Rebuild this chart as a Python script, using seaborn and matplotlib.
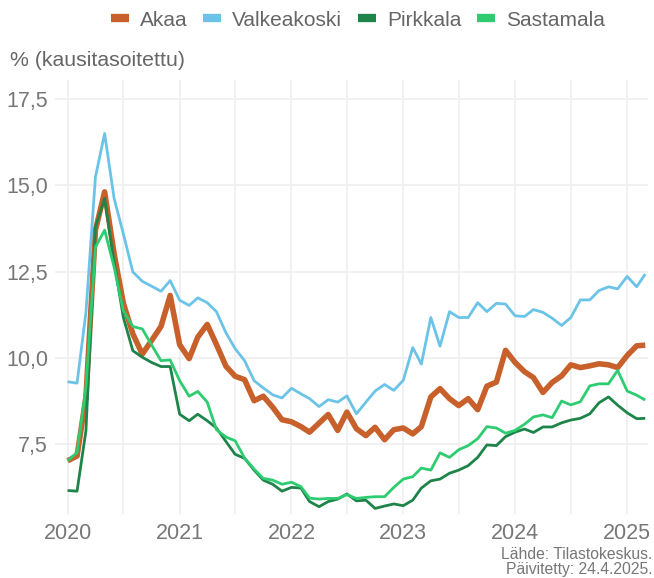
import matplotlib
matplotlib.use("Agg")
import matplotlib.pyplot as plt
import matplotlib.dates as mdates
from matplotlib.lines import Line2D
import seaborn as sns
import pandas as pd

months = pd.date_range("2020-01-01", "2025-03-01", freq="MS")

akaa = [7.02, 7.16, 8.86, 13.7, 14.81, 13.02, 11.59, 10.7, 10.11, 10.5, 10.91, 11.81,
        10.38, 9.98, 10.6, 10.97, 10.39, 9.76, 9.47, 9.37, 8.76, 8.89, 8.57, 8.21,
        8.15, 8.01, 7.85, 8.11, 8.36, 7.9, 8.43, 7.95, 7.75, 7.99, 7.63, 7.92,
        7.97, 7.8, 8.01, 8.87, 9.11, 8.82, 8.62, 8.82, 8.5, 9.18, 9.3, 10.22,
        9.87, 9.6, 9.43, 9.0, 9.29, 9.48, 9.8, 9.72, 9.77, 9.83, 9.8, 9.72,
        10.07, 10.35, 10.37]
valkeakoski = [9.31, 9.27, 11.32, 15.24, 16.5, 14.62, 13.6, 12.49, 12.22, 12.08, 11.93, 12.24,
               11.67, 11.52, 11.74, 11.6, 11.34, 10.73, 10.27, 9.92, 9.34, 9.13, 8.93, 8.84,
               9.12, 8.96, 8.82, 8.59, 8.79, 8.72, 8.9, 8.38, 8.72, 9.04, 9.23, 9.06,
               9.35, 10.3, 9.82, 11.17, 10.34, 11.34, 11.17, 11.17, 11.6, 11.34, 11.58, 11.56,
               11.22, 11.2, 11.4, 11.32, 11.15, 10.94, 11.17, 11.68, 11.68, 11.95, 12.06, 12.0,
               12.36, 12.06, 12.43]
pirkkala = [6.16, 6.14, 7.89, 13.79, 14.62, 12.78, 11.18, 10.21, 10.02, 9.87, 9.75, 9.75,
            8.37, 8.18, 8.37, 8.18, 7.97, 7.58, 7.21, 7.09, 6.75, 6.46, 6.34, 6.14,
            6.25, 6.23, 5.84, 5.69, 5.84, 5.91, 6.06, 5.86, 5.88, 5.64, 5.71, 5.77,
            5.72, 5.88, 6.23, 6.44, 6.49, 6.66, 6.75, 6.88, 7.12, 7.48, 7.46, 7.72,
            7.85, 7.94, 7.84, 8.0, 8.0, 8.12, 8.2, 8.25, 8.38, 8.7, 8.87, 8.63,
            8.41, 8.24, 8.25]
sastamala = [7.02, 7.26, 9.15, 13.21, 13.7, 12.63, 11.37, 10.91, 10.84, 10.38, 9.92, 9.94,
             9.34, 8.89, 9.03, 8.72, 7.92, 7.71, 7.6, 7.1, 6.78, 6.51, 6.46, 6.34,
             6.4, 6.27, 5.94, 5.91, 5.93, 5.93, 6.04, 5.93, 5.96, 5.98, 5.98, 6.25,
             6.49, 6.56, 6.81, 6.75, 7.25, 7.12, 7.34, 7.46, 7.66, 8.01, 7.97, 7.82,
             7.9, 8.08, 8.29, 8.35, 8.27, 8.75, 8.64, 8.73, 9.19, 9.25, 9.25, 9.64,
             9.04, 8.92, 8.78]

series_names = ["Akaa", "Valkeakoski", "Pirkkala", "Sastamala"]
colors = ["#C8602B", "#6CC3E8", "#1E8449", "#2ECC71"]
widths = [4.0, 2.0, 2.0, 2.0]
y_ticks = [7.5, 10.0, 12.5, 15.0, 17.5]
y_label = "% (kausitasoitettu)"
source = "Lähde: Tilastokeskus.\nPäivitetty: 24.4.2025."

sns.set_theme(style="white")
FONT = ["Liberation Sans Narrow", "Liberation Sans", "DejaVu Sans"]
plt.rcParams["font.family"] = FONT

df = pd.DataFrame({"kk": list(months) * 4,
                   "arvo": akaa + valkeakoski + pirkkala + sastamala,
                   "kunta": sum([[n] * len(months) for n in series_names], [])})

fig = plt.figure(figsize=(6.54, 5.78), dpi=100)
ax = fig.add_axes([55 / 654, 1 - 515 / 578, (648 - 55) / 654, (515 - 80) / 578])

for name, col, lw in zip(series_names, colors, widths):
    sns.lineplot(data=df[df["kunta"] == name], x="kk", y="arvo", color=col,
                 linewidth=lw, ax=ax, legend=False, solid_joinstyle="round",
                 solid_capstyle="butt")

ax.set_xlim(pd.Timestamp("2019-11-21"), pd.Timestamp("2025-03-10"))
ax.set_ylim(5.45, 18.05)
ax.xaxis.set_major_locator(mdates.YearLocator())
ax.xaxis.set_major_formatter(mdates.DateFormatter("%Y"))
ax.xaxis.set_minor_locator(mdates.MonthLocator(bymonth=[7]))
ax.set_yticks(y_ticks)
ax.set_yticklabels([f"{v:.1f}".replace(".", ",") for v in y_ticks])
ax.grid(True, which="major", color="#efefef", linewidth=1.2)
ax.grid(True, which="minor", axis="x", color="#efefef", linewidth=1.2)
ax.set_axisbelow(True)
for s in ax.spines.values():
    s.set_visible(False)
ax.tick_params(axis="both", which="both", length=0, labelsize=15.5, labelcolor="#777777")
ax.tick_params(axis="x", pad=6)
ax.tick_params(axis="y", pad=5)
ax.set_xlabel("")
ax.set_ylabel("")

fig.text(10 / 654, 1 - 60 / 578, y_label, fontsize=15.3, color="#666666",
         ha="left", va="center")
fig.text(652 / 654, 1 / 578, source, fontsize=11.3, color="#777777",
         ha="right", va="bottom", linespacing=1.0, multialignment="right")

handles = [Line2D([0], [0], color=c, linewidth=6, solid_capstyle="butt") for c in colors]
fig.legend(handles, series_names, loc="center", bbox_to_anchor=(358 / 654, 1 - 20 / 578),
           ncol=4, frameon=False, fontsize=15, labelcolor="#666666",
           handlelength=0.85, handletextpad=0.55, columnspacing=0.75, borderpad=0)

fig.savefig("out.png", dpi=100)
